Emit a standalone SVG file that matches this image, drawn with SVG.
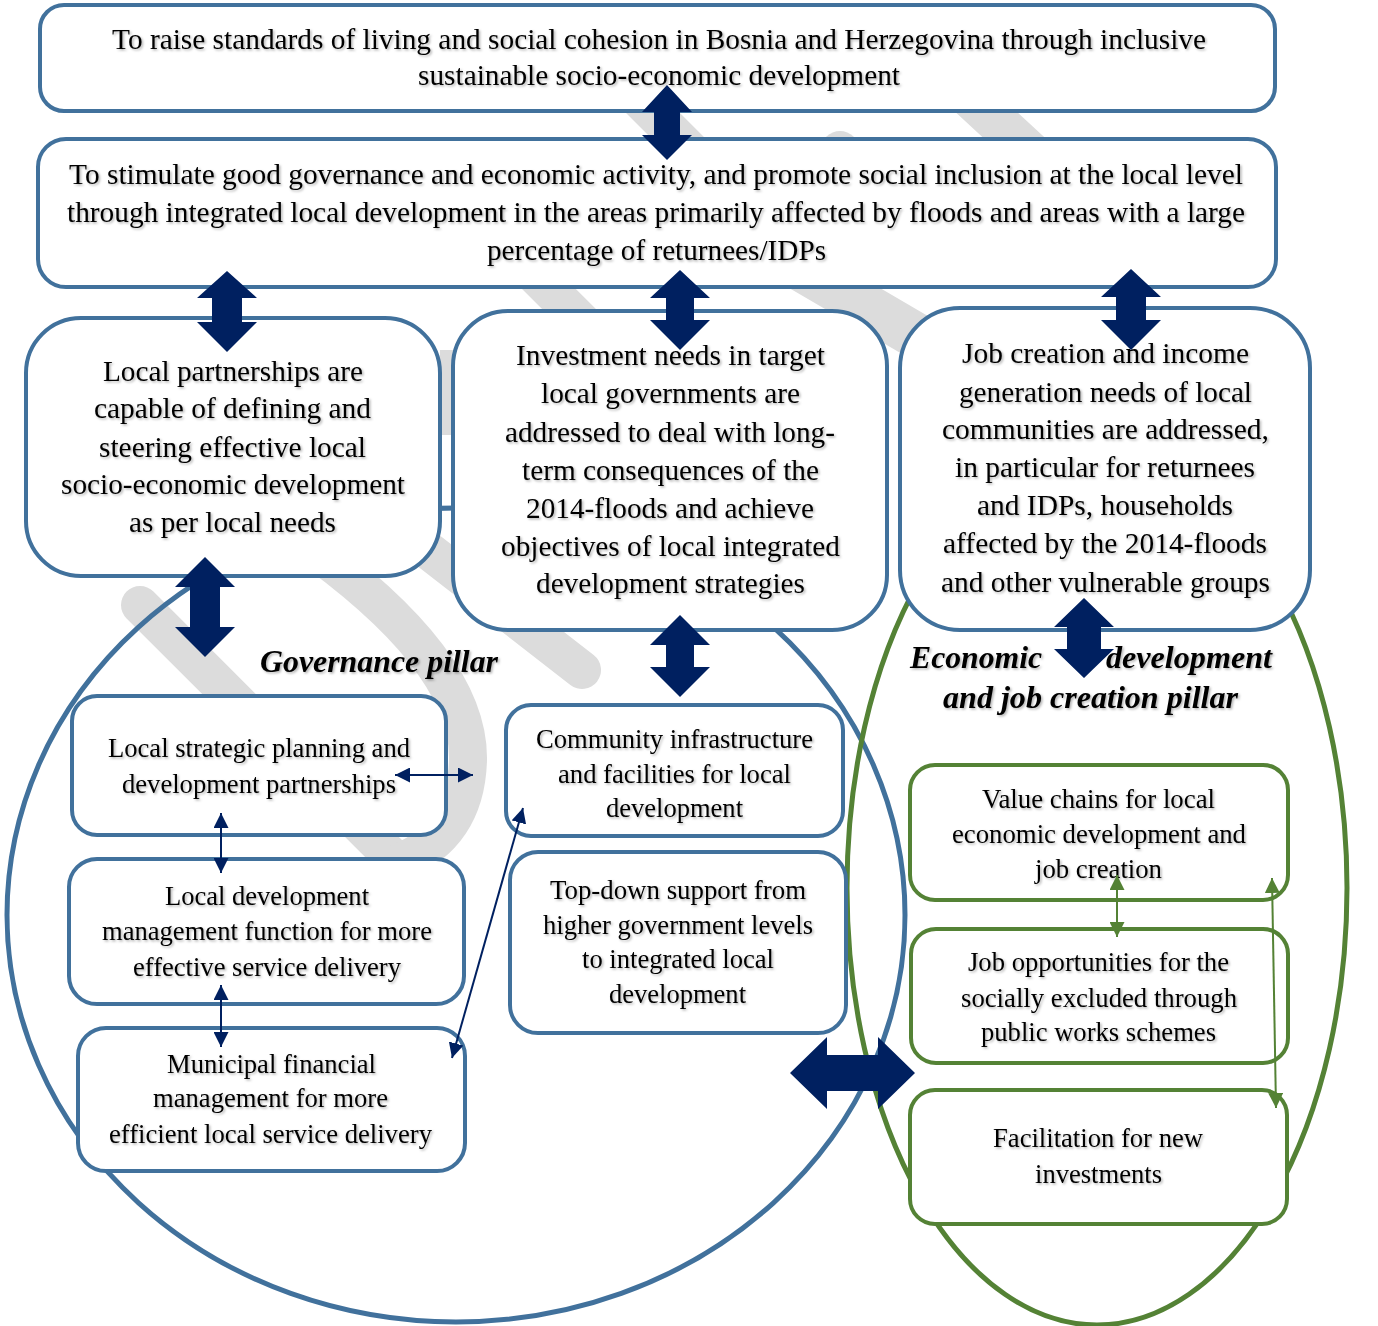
<svg xmlns="http://www.w3.org/2000/svg" width="1378" height="1326" viewBox="0 0 1378 1326">
<defs>
<style>
.t{font-family:"Liberation Serif","Times New Roman",serif;font-size:29px;fill:#000;filter:url(#sh)}
.s{font-family:"Liberation Serif","Times New Roman",serif;font-size:26.5px;fill:#000;filter:url(#sh)}
.p{font-family:"Liberation Serif","Times New Roman",serif;font-size:32px;font-weight:bold;font-style:italic;fill:#000;filter:url(#sh)}
.bx{fill:#fff;stroke:#41719C;stroke-width:4}
.gx{fill:#fff;stroke:#548235;stroke-width:4}
.wm{fill:none;stroke:#dcdcdc;stroke-width:38;stroke-linecap:round}
.big{fill:#002060}
.ln{stroke:#002060;stroke-width:2;fill:none;marker-start:url(#ha);marker-end:url(#ha)}
.lg{stroke:#548235;stroke-width:2;fill:none;marker-start:url(#hg);marker-end:url(#hg)}
</style>
<filter id="sh" x="-5%" y="-30%" width="110%" height="160%"><feDropShadow dx="1.5" dy="1.5" stdDeviation="1" flood-color="#000" flood-opacity="0.3"/></filter>
<marker id="ha" viewBox="0 0 15 15" refX="15" refY="7.5" markerWidth="15" markerHeight="15" markerUnits="userSpaceOnUse" orient="auto-start-reverse"><path d="M0,0 L15,7.5 L0,15 z" fill="#002060"/></marker>
<marker id="hg" viewBox="0 0 15 15" refX="15" refY="7.5" markerWidth="15" markerHeight="15" markerUnits="userSpaceOnUse" orient="auto-start-reverse"><path d="M0,0 L15,7.5 L0,15 z" fill="#548235"/></marker>
</defs>
<rect x="0" y="0" width="1378" height="1326" fill="#fff"/>
<g id="watermark">
<path class="wm" d="M140,605 L395,860"/>
<path class="wm" d="M300,540 Q470,660 468,760 Q466,835 400,862"/>
<path class="wm" d="M425,548 L582,670"/>
<path class="wm" d="M635,95 L700,160"/>
<path class="wm" style="stroke-width:42" d="M968,95 L1038,160"/>
<path class="wm" d="M840,150 L840,200"/>
<path class="wm" d="M525,265 L595,335"/>
<path class="wm" style="stroke-width:46" d="M790,262 L915,335"/>
<rect x="440" y="350" width="14" height="85" fill="#dcdcdc"/>
</g>
<g id="pillars">
<ellipse id="governance-pillar" cx="456" cy="915" rx="449" ry="407" fill="none" stroke="#41719C" stroke-width="5"/>
<ellipse id="economic-pillar" cx="1097" cy="888" rx="250" ry="437" fill="none" stroke="#548235" stroke-width="5"/>
</g>
<g id="goal">
<rect class="bx" x="40" y="5" width="1235" height="106" rx="24"/>
<text class="t" x="112" y="49" textLength="1094" lengthAdjust="spacingAndGlyphs">To raise standards of living and social cohesion in Bosnia and Herzegovina through inclusive</text>
<text class="t" x="418" y="85" textLength="482" lengthAdjust="spacingAndGlyphs">sustainable socio-economic development</text>
</g>
<g id="objective">
<rect class="bx" x="38" y="139" width="1238" height="148" rx="28"/>
<text class="t" x="69" y="184" textLength="1174" lengthAdjust="spacingAndGlyphs">To stimulate good governance and economic activity, and promote social inclusion at the local level</text>
<text class="t" x="67" y="222" textLength="1178" lengthAdjust="spacingAndGlyphs">through integrated local development in the areas primarily affected by floods and areas with a large</text>
<text class="t" x="487" y="260" textLength="339" lengthAdjust="spacingAndGlyphs">percentage of returnees/IDPs</text>
</g>
<g id="outcome-partnerships">
<rect class="bx" x="26" y="318" width="414" height="258" rx="55"/>
<text class="t" x="103" y="381" textLength="260" lengthAdjust="spacingAndGlyphs">Local partnerships are</text>
<text class="t" x="94" y="418" textLength="277" lengthAdjust="spacingAndGlyphs">capable of defining and</text>
<text class="t" x="99" y="457" textLength="267" lengthAdjust="spacingAndGlyphs">steering effective local</text>
<text class="t" x="61" y="494" textLength="344" lengthAdjust="spacingAndGlyphs">socio-economic development</text>
<text class="t" x="129" y="532" textLength="207" lengthAdjust="spacingAndGlyphs">as per local needs</text>
</g>
<g id="outcome-investment">
<rect class="bx" x="453" y="311" width="434" height="319" rx="55"/>
<text class="t" x="516" y="365" textLength="309" lengthAdjust="spacingAndGlyphs">Investment needs in target</text>
<text class="t" x="541" y="403" textLength="259" lengthAdjust="spacingAndGlyphs">local governments are</text>
<text class="t" x="505" y="442" textLength="330" lengthAdjust="spacingAndGlyphs">addressed to deal with long-</text>
<text class="t" x="522" y="480" textLength="297" lengthAdjust="spacingAndGlyphs">term consequences of the</text>
<text class="t" x="526" y="518" textLength="288" lengthAdjust="spacingAndGlyphs">2014-floods and achieve</text>
<text class="t" x="501" y="556" textLength="339" lengthAdjust="spacingAndGlyphs">objectives of local integrated</text>
<text class="t" x="536" y="593" textLength="269" lengthAdjust="spacingAndGlyphs">development strategies</text>
</g>
<g id="outcome-jobs">
<rect class="bx" x="900" y="308" width="410" height="322" rx="60"/>
<text class="t" x="962" y="363" textLength="287" lengthAdjust="spacingAndGlyphs">Job creation and income</text>
<text class="t" x="959" y="402" textLength="293" lengthAdjust="spacingAndGlyphs">generation needs of local</text>
<text class="t" x="942" y="439" textLength="327" lengthAdjust="spacingAndGlyphs">communities are addressed,</text>
<text class="t" x="955" y="477" textLength="300" lengthAdjust="spacingAndGlyphs">in particular for returnees</text>
<text class="t" x="977" y="515" textLength="256" lengthAdjust="spacingAndGlyphs">and IDPs, households</text>
<text class="t" x="943" y="553" textLength="324" lengthAdjust="spacingAndGlyphs">affected by the 2014-floods</text>
<text class="t" x="941" y="592" textLength="329" lengthAdjust="spacingAndGlyphs">and other vulnerable groups</text>
</g>
<g id="label-governance">
<text class="p" x="260" y="672" textLength="238" lengthAdjust="spacingAndGlyphs">Governance pillar</text>
</g>
<g id="label-economic">
<text class="p" x="910" y="668" textLength="132" lengthAdjust="spacingAndGlyphs">Economic</text>
<text class="p" x="1106" y="668" textLength="166" lengthAdjust="spacingAndGlyphs">development</text>
<text class="p" x="943" y="708" textLength="295" lengthAdjust="spacingAndGlyphs">and job creation pillar</text>
</g>
<g id="strategic-planning">
<rect class="bx" x="72" y="696" width="374" height="139" rx="25"/>
<text class="s" x="108" y="757" textLength="302" lengthAdjust="spacingAndGlyphs">Local strategic planning and</text>
<text class="s" x="122" y="793" textLength="274" lengthAdjust="spacingAndGlyphs">development partnerships</text>
</g>
<g id="management-function">
<rect class="bx" x="69" y="859" width="395" height="145" rx="28"/>
<text class="s" x="165" y="905" textLength="204" lengthAdjust="spacingAndGlyphs">Local development</text>
<text class="s" x="102" y="940" textLength="330" lengthAdjust="spacingAndGlyphs">management function for more</text>
<text class="s" x="133" y="976" textLength="268" lengthAdjust="spacingAndGlyphs">effective service delivery</text>
</g>
<g id="financial-management">
<rect class="bx" x="78" y="1028" width="387" height="143" rx="28"/>
<text class="s" x="167" y="1073" textLength="209" lengthAdjust="spacingAndGlyphs">Municipal financial</text>
<text class="s" x="153" y="1107" textLength="235" lengthAdjust="spacingAndGlyphs">management for more</text>
<text class="s" x="109" y="1143" textLength="323" lengthAdjust="spacingAndGlyphs">efficient local service delivery</text>
</g>
<g id="community-infrastructure">
<rect class="bx" x="506" y="705" width="337" height="131" rx="25"/>
<text class="s" x="536" y="748" textLength="277" lengthAdjust="spacingAndGlyphs">Community infrastructure</text>
<text class="s" x="558" y="783" textLength="233" lengthAdjust="spacingAndGlyphs">and facilities for local</text>
<text class="s" x="606" y="817" textLength="137" lengthAdjust="spacingAndGlyphs">development</text>
</g>
<g id="top-down-support">
<rect class="bx" x="510" y="852" width="336" height="181" rx="28"/>
<text class="s" x="550" y="899" textLength="256" lengthAdjust="spacingAndGlyphs">Top-down support from</text>
<text class="s" x="543" y="934" textLength="270" lengthAdjust="spacingAndGlyphs">higher government levels</text>
<text class="s" x="582" y="968" textLength="192" lengthAdjust="spacingAndGlyphs">to integrated local</text>
<text class="s" x="609" y="1003" textLength="137" lengthAdjust="spacingAndGlyphs">development</text>
</g>
<g id="value-chains">
<rect class="gx" x="910" y="765" width="378" height="135" rx="25"/>
<text class="s" x="982" y="808" textLength="233" lengthAdjust="spacingAndGlyphs">Value chains for local</text>
<text class="s" x="952" y="843" textLength="294" lengthAdjust="spacingAndGlyphs">economic development and</text>
<text class="s" x="1035" y="878" textLength="127" lengthAdjust="spacingAndGlyphs">job creation</text>
</g>
<g id="job-opportunities">
<rect class="gx" x="911" y="929" width="377" height="134" rx="25"/>
<text class="s" x="968" y="971" textLength="261" lengthAdjust="spacingAndGlyphs">Job opportunities for the</text>
<text class="s" x="961" y="1007" textLength="276" lengthAdjust="spacingAndGlyphs">socially excluded through</text>
<text class="s" x="981" y="1041" textLength="235" lengthAdjust="spacingAndGlyphs">public works schemes</text>
</g>
<g id="new-investments">
<rect class="gx" x="910" y="1090" width="377" height="134" rx="25"/>
<text class="s" x="993" y="1147" textLength="210" lengthAdjust="spacingAndGlyphs">Facilitation for new</text>
<text class="s" x="1035" y="1183" textLength="127" lengthAdjust="spacingAndGlyphs">investments</text>
</g>
<g id="connectors">
<polygon class="big" points="667,85 692,112 680,112 680,135 692,135 667,160 642,135 654,135 654,112 642,112"/>
<polygon class="big" points="227,271 257,298 242,298 242,322 257,322 227,352 197,322 212,322 212,298 197,298"/>
<polygon class="big" points="680,270 710,298 694,298 694,320 710,320 680,350 650,320 666,320 666,298 650,298"/>
<polygon class="big" points="1131,269 1161,297 1146,297 1146,320 1161,320 1131,350 1101,320 1116,320 1116,297 1101,297"/>
<polygon class="big" points="205,557 235,587 220,587 220,627 235,627 205,657 175,627 190,627 190,587 175,587"/>
<polygon class="big" points="680,615 710,645 694,645 694,667 710,667 680,697 650,667 666,667 666,645 650,645"/>
<polygon class="big" points="1084,598 1114,627 1101,627 1101,649 1114,649 1084,678 1054,649 1067,649 1067,627 1054,627"/>
<polygon class="big" points="790,1073 827,1037 827,1055 878,1055 878,1037 915,1073 878,1109 878,1091 827,1091 827,1109"/>
<line class="ln" x1="395" y1="775" x2="473" y2="775"/>
<line class="ln" x1="221" y1="813" x2="221" y2="873"/>
<line class="ln" x1="221" y1="985" x2="221" y2="1047"/>
<line class="ln" x1="523" y1="808" x2="452" y2="1058"/>
<line class="lg" x1="1117" y1="875" x2="1117" y2="937"/>
<line class="lg" x1="1272" y1="878" x2="1276" y2="1108"/>
</g>
</svg>
